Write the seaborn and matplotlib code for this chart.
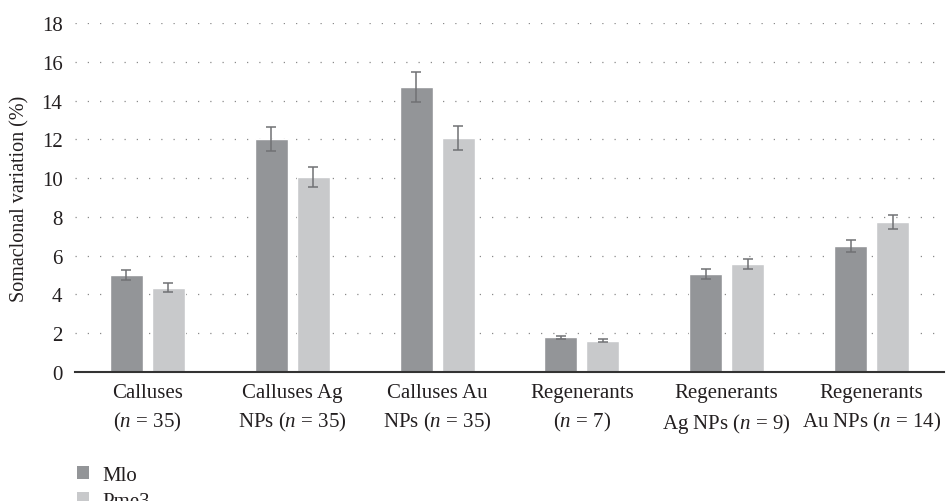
import matplotlib
matplotlib.use("Agg")
import matplotlib.pyplot as plt
from matplotlib.patches import Patch
import numpy as np
import pandas as pd
import seaborn as sns

# Somaclonal variation (%) per material, for the two marker systems
categories = [
    "Calluses\n($n$ = 35)",
    "Calluses Ag\nNPs ($n$ = 35)",
    "Calluses Au\nNPs ($n$ = 35)",
    "Regenerants\n($n$ = 7)",
    "Regenerants\nAg NPs ($n$ = 9)",
    "Regenerants\nAu NPs ($n$ = 14)",
]
series_names = ["Mlo", "Pme3"]
mlo_values = [5.0, 12.0, 14.7, 1.78, 5.05, 6.5]
mlo_errors = [0.26, 0.62, 0.75, 0.09, 0.26, 0.33]
pme3_values = [4.35, 10.05, 12.05, 1.62, 5.57, 7.74]
pme3_errors = [0.22, 0.5, 0.62, 0.08, 0.28, 0.38]
y_ticks = [0, 2, 4, 6, 8, 10, 12, 14, 16, 18]

colors = ["#939598", "#c8c9cb"]
err_color = "#707174"
text_color = "#231f20"

sns.set_theme(style="white")
plt.rcParams["font.family"] = ["Liberation Serif", "DejaVu Serif"]
plt.rcParams["mathtext.fontset"] = "custom"
plt.rcParams["mathtext.rm"] = "Liberation Serif"
plt.rcParams["mathtext.it"] = "Liberation Serif:italic"

df = pd.DataFrame({
    "category": categories * 2,
    "series": [series_names[0]] * len(categories) + [series_names[1]] * len(categories),
    "value": mlo_values + pme3_values,
})
errors = {series_names[0]: mlo_errors, series_names[1]: pme3_errors}

fig = plt.figure(figsize=(9.52, 5.02), dpi=100)
ax = fig.add_axes([75 / 952, 1 - 373 / 502, (944 - 75) / 952, (373 - 24) / 502])

sns.barplot(data=df, x="category", y="value", hue="series", order=categories,
            hue_order=series_names, palette=colors, width=0.58, gap=0.214,
            errorbar=None, legend=False, saturation=1, ax=ax)

for container, name in zip(ax.containers, series_names):
    for bar, err in zip(container, errors[name]):
        cx = bar.get_x() + bar.get_width() / 2
        ax.errorbar(cx, bar.get_height(), yerr=err, fmt="none", ecolor=err_color,
                    elinewidth=1.1, capsize=3.4, capthick=1.1, zorder=4)

ax.set_ylim(0, 18)
ax.set_xlim(-0.5, len(categories) - 0.5)
ax.set_yticks(y_ticks)
ax.set_yticklabels([str(t) for t in y_ticks])
ax.yaxis.grid(True, color="#8a8a8a", linestyle=(0, (1, 8.8)), linewidth=0.9)
ax.set_axisbelow(True)
ax.set_xlabel("")
ax.set_ylabel("Somaclonal variation (%)", fontsize=14.5, color=text_color, labelpad=9)

for side in ["top", "right", "left"]:
    ax.spines[side].set_visible(False)
ax.spines["bottom"].set_color("#333333")
ax.spines["bottom"].set_linewidth(1.5)
ax.tick_params(axis="both", length=0, labelsize=15, colors=text_color)
ax.tick_params(axis="x", pad=8)
ax.tick_params(axis="y", pad=9)
for lbl in ax.get_xticklabels():
    lbl.set_linespacing(1.5)

handles = [Patch(facecolor=c, edgecolor="none", label=n) for c, n in zip(colors, series_names)]
fig.legend(handles=handles, loc="upper left", bbox_to_anchor=(58 / 952, 1 - 448 / 502),
           frameon=False, fontsize=15, handlelength=0.6, handleheight=0.6,
           handletextpad=0.65, labelspacing=0.35, labelcolor=text_color)

fig.savefig("out.png", dpi=100)
